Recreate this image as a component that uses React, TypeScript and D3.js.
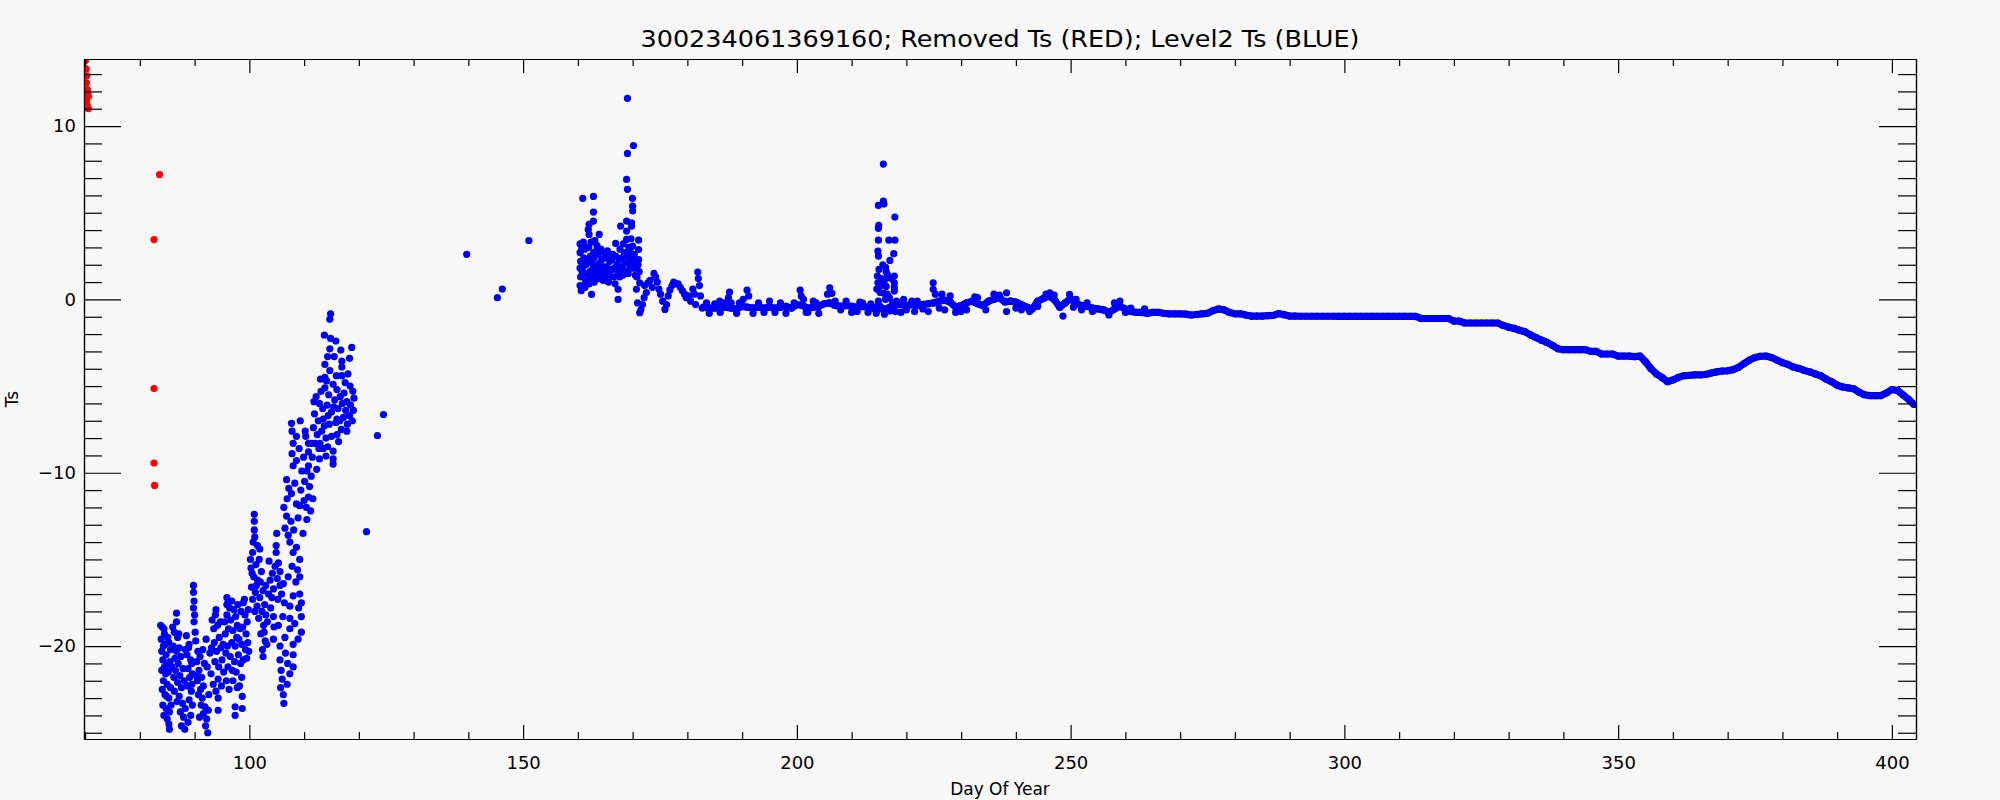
import React, { useEffect, useRef } from "react";
import * as d3 from "d3";

const WIDTH = 2000;
const HEIGHT = 800;
const MARGIN = { LEFT: 84, RIGHT: 84, TOP: 59, BOTTOM: 61 };
const DOT_R = 3.6;
const BLUE = "#0000f0";
const RED = "#ff0000";

const TITLE = "300234061369160; Removed Ts (RED); Level2 Ts (BLUE)";
const X_LABEL = "Day Of Year";
const Y_LABEL = "Ts";

const dayDomain = [69.8, 404.4];
const tsDomain = [-25.36, 13.87];
const dayMajorTicks = [100, 150, 200, 250, 300, 350, 400];
const tsMajorTicks = [-20, -10, 0, 10];

// removed points [day, Ts]
const removedTs = [
  [70.1, 13.8], [70.2, 13.3], [70.3, 12.9], [70.25, 12.5], [70.4, 12.1],
  [70.5, 11.9], [70.6, 11.7], [70.3, 11.5], [70.4, 11.2], [70.6, 11.0],
  [83.6, 7.2], [82.6, 3.45], [82.6, -5.14], [82.6, -9.44], [82.7, -10.73],
];

// spring, days 83-100
const springTs = [
  [83.8, -18.8], [84.1, -18.9], [84.5, -19.3], [83.9, -19.6], [84.6, -19.9], [84.0, -20.3],
  [84.8, -20.5], [85.3, -19.8], [85.6, -20.2], [84.2, -20.8], [84.9, -21.0], [85.5, -20.9],
  [84.0, -21.4], [84.7, -21.6], [85.2, -21.5], [84.3, -22.0], [85.0, -22.2], [84.1, -22.5],
  [84.6, -22.8], [85.3, -23.0], [84.2, -23.4], [84.8, -23.6], [85.4, -23.8], [85.0, -24.2],
  [85.3, -24.5], [85.4, -24.8],
  [86.7, -18.1], [86.7, -18.6], [86.3, -19.2], [86.9, -19.5], [86.1, -20.0], [86.7, -20.3],
  [87.2, -20.1], [86.4, -20.7], [87.0, -21.0], [87.5, -20.6], [86.5, -21.4], [87.3, -21.7],
  [86.9, -22.1], [87.6, -22.4], [87.2, -22.9], [87.8, -23.3], [87.4, -23.8], [88.0, -24.1],
  [87.6, -24.6], [88.2, -24.8],
  [88.5, -19.4], [89.0, -19.9], [88.6, -20.5], [89.3, -20.8], [88.8, -21.3], [89.5, -21.0],
  [89.1, -21.8], [88.7, -22.3], [89.4, -22.6], [89.0, -23.1], [89.6, -23.4], [89.3, -24.0],
  [88.8, -24.4],
  [89.8, -16.5], [89.8, -16.9], [89.9, -17.4], [89.8, -17.8], [90.0, -18.2], [89.9, -18.6],
  [90.1, -19.2],
  [90.2, -19.7], [90.6, -20.3], [90.4, -20.9], [91.0, -20.6], [90.8, -21.4], [91.3, -21.8],
  [90.5, -22.0], [91.1, -22.5], [91.6, -22.3], [91.4, -23.0], [91.9, -23.5], [91.6, -23.9],
  [92.2, -24.2], [92.0, -24.6], [92.4, -25.0], [92.6, -22.8], [92.3, -21.2], [92.8, -20.4],
  [92.1, -19.6],
  [93.2, -18.5], [93.5, -19.0], [93.8, -18.2], [94.2, -18.8], [93.6, -19.8], [94.5, -19.5],
  [94.0, -20.3], [94.8, -20.1], [93.7, -20.9], [94.4, -21.2], [95.0, -20.8], [94.3, -21.9],
  [94.9, -22.3], [94.3, -23.0], [94.3, -23.7], [95.3, -21.5], [95.6, -19.3], [95.9, -17.2],
  [95.9, -17.6], [95.9, -18.2], [95.5, -18.6], [96.2, -19.0],
  [96.4, -17.8], [96.8, -17.4], [97.2, -17.9], [96.6, -18.5], [97.5, -18.3], [97.0, -19.1],
  [97.8, -18.8], [96.8, -19.8], [97.4, -20.0], [98.1, -19.6], [96.5, -20.6], [97.3, -20.9],
  [98.0, -20.5], [97.6, -21.5], [98.4, -21.0], [97.0, -22.0], [97.8, -22.4], [97.4, -23.5],
  [97.4, -24.0], [98.5, -18.0], [98.9, -17.5], [99.2, -18.2], [98.8, -18.9], [99.4, -19.3],
  [98.6, -19.9], [99.3, -20.2], [98.9, -20.8], [99.1, -17.3], [98.7, -23.6], [98.7, -22.9],
  [84.4, -19.0], [85.1, -19.5], [84.3, -20.0], [85.8, -21.2], [84.5, -21.2], [85.6, -22.4],
  [84.9, -22.9], [84.4, -24.0], [85.7, -23.4], [86.0, -18.9], [86.2, -21.8], [86.8, -23.2],
  [86.3, -22.6], [87.9, -21.3], [88.1, -22.0], [88.3, -23.6], [87.1, -19.3], [88.3, -20.2],
  [88.9, -20.1], [89.6, -21.6], [89.5, -22.2], [90.3, -21.7], [90.7, -22.8], [91.2, -23.4],
  [90.9, -24.1], [91.5, -20.2], [91.8, -21.0], [92.5, -23.7], [93.0, -21.6], [93.4, -22.2],
  [93.9, -22.6], [93.1, -20.1], [94.7, -18.6], [95.2, -19.9], [95.7, -20.4], [96.1, -21.2],
  [96.0, -20.0], [95.8, -22.0], [96.3, -22.5], [96.9, -21.4], [97.7, -19.5], [98.3, -19.0],
  [98.6, -21.8], [98.2, -22.3], [99.6, -18.6], [99.7, -19.8], [99.5, -20.7], [96.1, -17.5],
  [97.9, -17.6], [93.9, -17.9], [99.8, -17.9], [99.9, -20.3],
];

// warming, days 100-125, and isolated readings up to day 151
const warmingTs = [
  [100.2, -15.0], [100.6, -14.6], [100.9, -12.4], [100.9, -12.8], [100.9, -13.3], [101.0, -13.7],
  [100.7, -14.0], [101.5, -14.2], [101.9, -14.4], [100.3, -15.5], [101.2, -15.3], [101.8, -15.0],
  [100.8, -16.0], [101.5, -16.2], [102.2, -15.7], [100.4, -16.6], [101.1, -16.9], [101.9, -17.2],
  [102.5, -16.8], [101.4, -17.7], [102.3, -18.0], [102.8, -17.6], [101.7, -18.4], [102.6, -18.8],
  [103.0, -18.2], [102.1, -19.3], [102.9, -19.7], [102.4, -20.2], [103.2, -19.9], [102.5, -20.6],
  [103.5, -17.0], [103.8, -16.2], [104.2, -15.8], [104.9, -14.2], [104.9, -14.6], [103.6, -15.1],
  [104.4, -16.7], [104.4, -18.3], [104.5, -18.9], [104.4, -19.6], [105.0, -13.5], [105.3, -15.2],
  [105.6, -15.7], [105.6, -16.5], [105.2, -17.3], [105.9, -17.0], [105.6, -20.0], [105.6, -20.8],
  [105.8, -21.4], [106.0, -21.9], [105.7, -22.4], [106.2, -22.8], [106.3, -23.3], [106.3, -12.0],
  [106.8, -12.5], [106.5, -13.2], [107.1, -13.6], [107.4, -14.0], [108.0, -14.6], [108.6, -14.3],
  [109.2, -15.0], [107.8, -15.4], [107.1, -16.0], [108.5, -16.3], [109.2, -16.0], [109.2, -17.0],
  [108.0, -17.1], [107.4, -17.7], [109.5, -17.5], [107.4, -18.4], [109.5, -18.3], [107.4, -19.0],
  [109.5, -19.2], [108.0, -19.9], [108.0, -20.5], [108.0, -21.2], [107.4, -21.6], [106.9, -22.2],
  [109.2, -11.9], [110.5, -12.7], [106.8, -10.4], [107.2, -10.9], [106.9, -11.5], [107.7, -11.2],
  [108.3, -10.6], [108.6, -11.8], [109.4, -11.0], [110.1, -10.5], [110.8, -11.4], [110.4, -12.0],
  [111.0, -10.8], [107.7, -7.15], [107.8, -7.6], [108.6, -7.9], [108.0, -8.3], [107.8, -8.9],
  [108.6, -9.3], [108.0, -9.6], [110.8, -8.3], [110.8, -8.8], [110.8, -9.6], [109.6, -9.9],
  [110.3, -7.9], [111.5, -9.1], [111.2, -12.2], [109.3, -7.0], [110.2, -7.6],
  [100.5, -15.8], [101.3, -16.5], [102.0, -16.3], [100.6, -17.3], [101.0, -18.0], [102.7, -19.2],
  [103.3, -18.6], [103.9, -17.8], [104.1, -17.2], [103.0, -16.5], [104.7, -15.4], [105.1, -16.1],
  [106.2, -16.4], [106.4, -17.5], [106.1, -18.3], [105.3, -18.8], [106.5, -19.5], [106.6, -20.4],
  [107.0, -21.0], [108.3, -18.7], [108.9, -19.6], [109.0, -17.8], [108.8, -15.6], [107.6, -12.8],
  [108.1, -13.3], [108.9, -12.6], [109.8, -13.5], [110.0, -11.6], [109.9, -9.1], [111.3, -10.2],
  [111.6, -11.5], [109.1, -8.6], [110.5, -9.9], [111.4, -8.3], [112.3, -9.8], [112.9, -8.3],
  [114.84, -0.83], [114.7, -1.15], [113.7, -2.06], [114.84, -2.25], [114.7, -2.85], [116.7, -2.92],
  [118.7, -2.77], [113.8, -3.75], [116.9, -3.56], [116.9, -3.9], [116.9, -4.4], [114.7, -4.1],
  [113.8, -4.5], [113.8, -5.1], [115.3, -4.9], [116.0, -5.2], [117.5, -4.8], [118.4, -5.0],
  [118.9, -5.3], [114.5, -5.5], [115.6, -5.8], [116.6, -5.6], [117.8, -5.9], [118.5, -6.1],
  [119.0, -6.4], [112.2, -5.6], [112.8, -6.0], [113.4, -6.3], [114.2, -6.1], [115.0, -6.5],
  [116.2, -6.3], [117.2, -6.8], [118.3, -6.7], [118.8, -7.0], [111.9, -6.6], [112.6, -7.0],
  [113.5, -6.9], [114.6, -7.2], [115.8, -7.1], [116.8, -7.5], [111.7, -7.4], [112.4, -7.8],
  [113.2, -7.6], [114.0, -8.0], [115.0, -7.9], [116.3, -8.2], [112.0, -8.3], [113.5, -8.6],
  [114.0, -9.04], [115.3, -8.75], [115.3, -9.2], [115.3, -9.5], [112.8, -9.2], [111.8, -5.9],
  [113.0, -4.6], [115.5, -3.3], [116.0, -6.9], [117.0, -6.0],
  [113.7, -7.3], [114.4, -6.7], [115.4, -6.2], [116.5, -7.0], [117.6, -6.4], [117.8, -7.6],
  [116.0, -7.8], [114.3, -8.5], [112.7, -8.6], [113.1, -5.3], [114.1, -4.7], [115.9, -4.4],
  [117.3, -5.4], [118.0, -4.3], [118.3, -3.4], [117.9, -7.2], [119.1, -5.7], [114.3, -3.3],
  [115.8, -2.4],
  [121.4, -13.4], [123.4, -7.85], [124.5, -6.64],
  [139.7, 2.6], [145.3, 0.1], [146.2, 0.6], [151.05, 3.4],
];

// melt season, days 160-183 plus spike near day 216 and scatter round the record
const summerTs = [
  [160.4, 3.2], [160.4, 2.7], [160.5, 2.2], [160.4, 1.8], [160.5, 1.3], [160.4, 0.8], [160.6, 0.5],
  [160.9, 5.83], [161.0, 3.3], [161.3, 2.9], [161.1, 2.4], [161.5, 2.0], [161.2, 1.5], [161.6, 1.1],
  [161.3, 0.7], [161.9, 4.04], [162.05, 4.33], [162.05, 3.75], [162.85, 5.94], [162.85, 5.04],
  [162.85, 4.52], [162.5, 0.29], [162.0, 3.0], [162.3, 2.5], [162.6, 2.1], [162.2, 1.6],
  [162.7, 1.2], [162.1, 0.9], [163.9, 3.75], [163.1, 3.4], [163.4, 2.8], [163.0, 2.4],
  [163.6, 2.0], [163.2, 1.5], [163.8, 1.2], [164.2, 2.9], [164.4, 2.3], [164.1, 1.7],
  [164.6, 1.1], [165.0, 2.4], [165.3, 1.9], [165.1, 1.4], [165.6, 1.0], [165.8, 2.2],
  [166.1, 1.7], [166.4, 2.6], [166.9, 3.23], [166.5, 1.3], [166.8, 0.9], [167.1, 2.0],
  [167.35, 0.0], [167.35, 0.58], [167.8, 4.23], [167.7, 2.9], [168.0, 2.4], [167.9, 1.8],
  [168.2, 1.4], [168.5, 2.7], [168.9, 4.52], [168.9, 3.94], [168.9, 3.46], [168.6, 2.1],
  [168.9, 1.6], [169.06, 11.6], [169.06, 8.42], [168.9, 6.92], [169.06, 6.35], [169.3, 3.0],
  [169.5, 2.88], [169.4, 2.2], [169.2, 1.5], [169.8, 4.42], [169.8, 4.23], [169.97, 5.83],
  [170.0, 5.38], [170.0, 5.1], [170.0, 3.08], [170.15, 8.88], [169.9, 2.4], [170.1, 1.8],
  [170.4, 2.1], [170.5, 1.4], [170.7, 0.58], [171.1, 3.42], [171.1, 2.88], [171.1, 2.3],
  [171.2, 1.6], [171.3, 0.96], [170.9, -0.2], [171.3, -0.77], [171.5, -0.6], [171.8, -0.3],
  [160.7, 2.9], [160.8, 1.6], [161.6, 3.0], [161.8, 2.2], [161.0, 1.9], [161.9, 1.4],
  [162.4, 3.3], [162.9, 2.7], [162.8, 1.8], [163.3, 1.9], [163.7, 2.6], [163.5, 3.1],
  [164.0, 2.1], [164.3, 1.4], [164.8, 2.7], [164.9, 1.6], [165.4, 2.8], [165.5, 1.4],
  [165.9, 1.7], [166.2, 2.3], [166.6, 1.8], [166.9, 2.5], [167.3, 1.6], [167.5, 2.3],
  [167.6, 1.3], [168.1, 1.9], [168.3, 3.2], [168.7, 2.5], [168.4, 1.7], [169.1, 2.6],
  [169.6, 1.9], [169.7, 3.5], [170.3, 2.6], [170.6, 1.9], [170.8, 1.3], [171.0, 2.0],
  [165.7, 2.5], [164.5, 1.9], [161.4, 1.0], [163.0, 1.0],
  [172.1, 0.1], [172.2, 0.8], [172.5, 0.4], [172.8, 0.95], [173.2, 1.1], [173.6, 0.7],
  [173.9, 1.5], [174.2, 1.3], [174.5, 1.0], [174.8, 0.6], [175.1, 0.3], [175.5, -0.1],
  [175.9, -0.58], [176.2, -0.3], [176.5, 0.2], [176.8, 0.55], [177.2, 0.8], [177.5, 1.0],
  [177.9, 0.9], [178.3, 0.9], [178.7, 0.7], [179.1, 0.5], [179.5, 0.3], [179.8, 0.1],
  [180.2, 0.2], [180.6, -0.1], [181.0, 0.6], [181.3, 0.3], [181.5, -0.3], [181.9, 1.58],
  [182.0, 1.2], [182.2, 0.8], [182.4, 0.2], [182.7, -0.5],
  [185.9, -0.1], [187.7, 0.42], [187.5, 0.1], [188.0, -0.2], [190.2, 0.0], [190.9, 0.54],
  [191.2, 0.2], [195.0, -0.1], [197.0, -0.2], [200.6, 0.54], [200.8, 0.2], [201.2, 0.0],
  [203.0, -0.1], [206.0, 0.67], [205.6, 0.3], [206.4, 0.35], [209.0, -0.1], [212.0, -0.2],
  [184.0, -0.8], [186.0, -0.75], [189.0, -0.8], [192.0, -0.8], [194.0, -0.75], [198.0, -0.8],
  [202.0, -0.75], [204.0, -0.8], [208.0, -0.6], [211.0, -0.7], [213.0, -0.75], [214.5, -0.8],
  [216.0, -0.85], [218.0, -0.7], [220.0, -0.6], [223.0, -0.55],
  [183.5, -0.2], [185.0, -0.25], [186.8, -0.2], [189.5, -0.2], [193.0, -0.2], [196.0, -0.75],
  [199.5, -0.2], [201.7, -0.75], [203.5, -0.2], [207.0, -0.1], [210.0, -0.75], [211.5, -0.15],
  [213.5, -0.25], [219.0, -0.75], [221.5, -0.7], [224.0, -0.7], [226.0, -0.5], [229.0, -0.75],
  [231.0, -0.6], [232.5, 0.15], [234.5, -0.6], [237.0, 0.25], [240.0, -0.5], [241.0, -0.6],
  [244.0, -0.4], [245.5, 0.3], [247.0, 0.25], [250.5, -0.45], [252.0, -0.6], [254.0, -0.7],
  [257.0, -0.9], [258.0, -0.2], [260.0, -0.75],
  [215.8, 7.81], [214.9, 5.42], [215.8, 5.67], [215.9, 5.5], [214.95, 4.27], [214.9, 4.1],
  [217.9, 4.75], [216.8, 3.42], [217.9, 3.42], [214.9, 3.42], [217.7, 2.64], [214.8, 2.79],
  [214.9, 2.5], [217.0, 2.25], [215.7, 2.0], [216.2, 1.85], [215.0, 1.73], [216.3, 1.6],
  [217.8, 1.35], [214.7, 1.35], [215.5, 1.2], [216.0, 1.1], [216.6, 1.4], [217.2, 1.2],
  [214.8, 0.96], [215.4, 0.8], [216.3, 0.75], [217.8, 0.96], [217.8, 0.7], [217.8, 0.48],
  [214.6, 0.6], [215.2, 0.4], [215.9, 0.35], [216.5, 0.3], [216.9, 0.1], [216.2, 0.0],
  [214.9, -0.1], [217.0, -0.67], [216.8, -0.5], [215.0, -0.55], [217.5, -0.2], [218.2, -0.1],
  [219.5, 0.0], [221.0, -0.1], [222.0, -0.1], [224.9, 0.96], [224.9, 0.58], [225.3, 0.3],
  [226.5, 0.3], [227.0, -0.6], [228.0, 0.2], [230.0, -0.7], [233.0, 0.1], [236.0, 0.3],
  [238.3, 0.38], [238.3, -0.7], [242.5, -0.7], [246.2, 0.38], [248.6, -0.96], [249.8, 0.29],
  [251.0, 0.0], [253.0, -0.2], [255.8, -0.6], [259.0, -0.1], [261.0, -0.5], [263.5, -0.55],
];

// continuous daily record from day 183 onward
const trackFirstDay = 183;
const trackTs = [
  -0.45, -0.5, -0.5, -0.4, -0.45, -0.5, -0.55, -0.4, -0.45, -0.5,
  -0.45, -0.5, -0.45, -0.5, -0.45, -0.4, -0.5, -0.3, -0.35, -0.5,
  -0.45, -0.4, -0.25, -0.2, -0.35, -0.4, -0.35, -0.4, -0.45, -0.4,
  -0.45, -0.5, -0.35, -0.6, -0.45, -0.3, -0.3, -0.35, -0.3, -0.35,
  -0.3, -0.25, -0.2, -0.1, -0.05, -0.15, -0.45, -0.35, -0.2, -0.1,
  -0.25, -0.35, -0.1, 0.0, 0.1, -0.15, -0.1, -0.15, -0.3, -0.45,
  -0.55, -0.1, 0.05, 0.2, 0.0, -0.45, -0.2, 0.05, -0.25, -0.35,
  -0.4, -0.5, -0.55, -0.6, -0.75, -0.55, -0.4, -0.55, -0.7, -0.75,
  -0.75, -0.8, -0.75, -0.75, -0.8, -0.83, -0.83, -0.83, -0.85, -0.9,
  -0.87, -0.83, -0.8, -0.65, -0.55, -0.6, -0.75, -0.83, -0.83, -0.9,
  -0.96, -0.96, -0.96, -0.94, -0.92, -0.82, -0.88, -0.96, -0.96, -0.97,
  -0.97, -0.97, -0.97, -0.97, -0.97, -0.97, -0.98, -0.98, -0.98, -0.98,
  -0.98, -0.98, -0.98, -0.98, -0.98, -0.98, -0.98, -0.98, -0.98, -0.98,
  -0.98, -1.1, -1.1, -1.1, -1.1, -1.1, -1.1, -1.25, -1.25, -1.36,
  -1.36, -1.36, -1.36, -1.36, -1.36, -1.36, -1.5, -1.6, -1.67, -1.78,
  -1.87, -2.05, -2.2, -2.35, -2.48, -2.65, -2.85, -2.9, -2.9, -2.9,
  -2.9, -2.9, -3.0, -3.0, -3.15, -3.15, -3.15, -3.27, -3.27, -3.27,
  -3.3, -3.27, -3.6, -4.0, -4.3, -4.5, -4.75, -4.65, -4.5, -4.4,
  -4.38, -4.35, -4.35, -4.33, -4.25, -4.18, -4.13, -4.12, -4.05, -3.92,
  -3.7, -3.5, -3.35, -3.28, -3.27, -3.35, -3.5, -3.65, -3.75, -3.9,
  -3.98, -4.1, -4.18, -4.3, -4.4, -4.6, -4.75, -4.95, -5.05, -5.1,
  -5.15, -5.35, -5.5, -5.55, -5.55, -5.55, -5.4, -5.2, -5.25, -5.5,
  -5.75, -6.05,
];

const Chart = () => {
  const svgRef = useRef(null);

  useEffect(() => {
    const svg = d3.select(svgRef.current);
    svg.selectAll("*").remove();

    const left = MARGIN.LEFT;
    const right = WIDTH - MARGIN.RIGHT;
    const top = MARGIN.TOP;
    const bottom = HEIGHT - MARGIN.BOTTOM;

    const x = d3.scaleLinear().domain(dayDomain).range([left, right]);
    const y = d3.scaleLinear().domain(tsDomain).range([bottom, top]);

    svg.append("rect").attr("width", WIDTH).attr("height", HEIGHT).attr("fill", "#f7f7f7");

    svg
      .append("clipPath")
      .attr("id", "plot-clip")
      .append("rect")
      .attr("x", left)
      .attr("y", top)
      .attr("width", right - left)
      .attr("height", bottom - top);

    const plot = svg.append("g").attr("clip-path", "url(#plot-clip)");

    const track = trackTs.map((v, i) => [trackFirstDay + i, v]);

    // the record is sampled densely enough that its dots merge into a band
    plot
      .append("path")
      .datum(track)
      .attr("fill", "none")
      .attr("stroke", BLUE)
      .attr("stroke-width", DOT_R * 2)
      .attr("stroke-linejoin", "round")
      .attr("stroke-linecap", "round")
      .attr("d", d3.line().x((d) => x(d[0])).y((d) => y(d[1])));

    const blue = [...springTs, ...warmingTs, ...summerTs, ...track];
    plot
      .selectAll(".blue")
      .data(blue)
      .join("circle")
      .attr("class", "blue")
      .attr("cx", (d) => x(d[0]))
      .attr("cy", (d) => y(d[1]))
      .attr("r", DOT_R)
      .attr("fill", BLUE);

    plot
      .selectAll(".red")
      .data(removedTs)
      .join("circle")
      .attr("class", "red")
      .attr("cx", (d) => x(d[0]))
      .attr("cy", (d) => y(d[1]))
      .attr("r", DOT_R)
      .attr("fill", RED);

    const dayMinor = d3.range(70, 405, 10).filter((d) => d % 50 !== 0);
    const tsMinor = d3.range(-25, 14, 1).filter((d) => d % 10 !== 0);

    const styleAxis = (g) => {
      g.selectAll("path").attr("stroke", "#000").attr("stroke-width", 1.2);
      g.selectAll("line").attr("stroke", "#000").attr("stroke-width", 1.2);
      g.selectAll("text")
        .attr("fill", "#000")
        .style("font-family", "'DejaVu Sans', sans-serif")
        .style("font-size", "18px");
    };

    // bottom
    svg
      .append("g")
      .attr("transform", `translate(0,${bottom})`)
      .call(d3.axisBottom(x).tickValues(dayMinor).tickSizeInner(-7).tickSizeOuter(0).tickFormat(""))
      .call(styleAxis);
    svg
      .append("g")
      .attr("transform", `translate(0,${bottom})`)
      .call(d3.axisBottom(x).tickValues(dayMajorTicks).tickSizeInner(-14).tickSizeOuter(0).tickPadding(17).tickFormat(d3.format("d")))
      .call(styleAxis);
    // top
    svg
      .append("g")
      .attr("transform", `translate(0,${top})`)
      .call(d3.axisTop(x).tickValues(dayMinor).tickSizeInner(-7).tickSizeOuter(0).tickFormat(""))
      .call(styleAxis);
    svg
      .append("g")
      .attr("transform", `translate(0,${top})`)
      .call(d3.axisTop(x).tickValues(dayMajorTicks).tickSizeInner(-14).tickSizeOuter(0).tickFormat(""))
      .call(styleAxis);
    // left
    svg
      .append("g")
      .attr("transform", `translate(${left},0)`)
      .call(d3.axisLeft(y).tickValues(tsMinor).tickSizeInner(-18).tickSizeOuter(0).tickFormat(""))
      .call(styleAxis);
    svg
      .append("g")
      .attr("transform", `translate(${left},0)`)
      .call(d3.axisLeft(y).tickValues(tsMajorTicks).tickSizeInner(-37).tickSizeOuter(0).tickPadding(8).tickFormat(d3.format("d")))
      .call(styleAxis);
    // right
    svg
      .append("g")
      .attr("transform", `translate(${right},0)`)
      .call(d3.axisRight(y).tickValues(tsMinor).tickSizeInner(-18).tickSizeOuter(0).tickFormat(""))
      .call(styleAxis);
    svg
      .append("g")
      .attr("transform", `translate(${right},0)`)
      .call(d3.axisRight(y).tickValues(tsMajorTicks).tickSizeInner(-37).tickSizeOuter(0).tickFormat(""))
      .call(styleAxis);

    const font = "'DejaVu Sans', sans-serif";
    svg
      .append("text")
      .attr("x", WIDTH / 2)
      .attr("y", 47)
      .attr("text-anchor", "middle")
      .attr("textLength", 719)
      .attr("lengthAdjust", "spacingAndGlyphs")
      .style("font-family", font)
      .style("font-size", "23px")
      .text(TITLE);

    svg
      .append("text")
      .attr("x", (left + right) / 2)
      .attr("y", 795)
      .attr("text-anchor", "middle")
      .style("font-family", font)
      .style("font-size", "17px")
      .text(X_LABEL);

    svg
      .append("text")
      .attr("transform", "translate(18,399) rotate(-90)")
      .attr("text-anchor", "middle")
      .style("font-family", font)
      .style("font-size", "17px")
      .text(Y_LABEL);
  }, []);

  return (
    <svg
      ref={svgRef}
      width={WIDTH}
      height={HEIGHT}
      style={{ position: "absolute", left: 0, top: 0, display: "block" }}
    ></svg>
  );
};

export default function App() {
  return <Chart />;
}
